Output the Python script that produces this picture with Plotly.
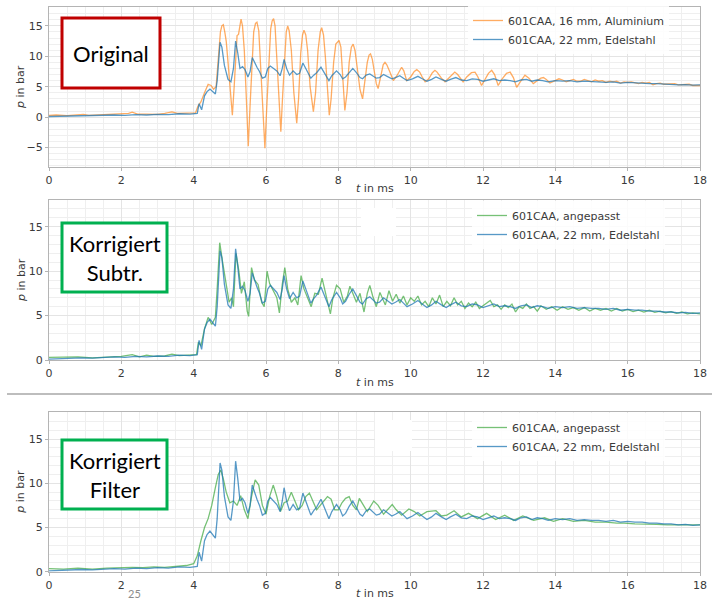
import plotly.graph_objects as go

# ---------------- data ----------------
t_alu = [0, 0.2, 0.5, 0.8, 0.95, 1.1, 1.4, 1.7, 2.0, 2.2, 2.3, 2.45, 2.7, 3.0, 3.2, 3.4, 3.55, 3.8, 4.05,
         4.12, 4.2, 4.3, 4.4, 4.48, 4.55, 4.62, 4.66, 4.70, 4.74, 4.78, 4.82, 4.86, 4.9, 4.95, 5.0, 5.07,
         5.12, 5.17, 5.2, 5.24, 5.28, 5.31, 5.35, 5.4, 5.45, 5.51, 5.56, 5.61, 5.66, 5.71, 5.75, 5.8, 5.84,
         5.9, 5.97, 6.02, 6.08, 6.13, 6.17, 6.21, 6.25, 6.3, 6.35, 6.41, 6.46, 6.52, 6.56, 6.6, 6.64, 6.7,
         6.77, 6.85, 6.9, 6.96, 7.01, 7.05, 7.1, 7.15, 7.22, 7.31, 7.37, 7.44, 7.5, 7.54, 7.59, 7.64, 7.7,
         7.75, 7.8, 7.87, 7.93, 7.98, 8.02, 8.07, 8.12, 8.18, 8.24, 8.3, 8.36, 8.41, 8.46, 8.53, 8.6, 8.67,
         8.73, 8.8, 8.85, 8.89, 8.94, 9.0, 9.05, 9.1, 9.17, 9.24, 9.29, 9.34, 9.42, 9.52, 9.62, 9.7, 9.75,
         9.81, 9.89, 10.0, 10.1, 10.17, 10.25, 10.32, 10.4, 10.5, 10.6, 10.67, 10.73, 10.85, 10.95, 11.05,
         11.15, 11.22, 11.3, 11.38, 11.45, 11.55, 11.68, 11.78, 11.86, 11.96, 12.05, 12.15, 12.24, 12.32,
         12.42, 12.52, 12.65, 12.75, 12.84, 12.93, 13.03, 13.16, 13.27, 13.39, 13.5, 13.6, 13.67, 13.75,
         13.85, 13.97, 14.1, 14.2, 14.3, 14.4, 14.5, 14.6, 14.7, 14.8, 14.9, 15.0, 15.1, 15.2, 15.3, 15.4,
         15.5, 15.6, 15.7, 15.8, 15.9, 16.0, 16.1, 16.2, 16.3, 16.4, 16.5, 16.6, 16.7, 16.8, 16.9, 17.0,
         17.1, 17.2, 17.3, 17.4, 17.5, 17.6, 17.7, 17.8, 17.9, 18.0]
p_alu = [0.3, 0.35, 0.25, 0.35, 0.45, 0.3, 0.35, 0.4, 0.45, 0.6, 0.8, 0.5, 0.5, 0.45, 0.6, 0.85, 0.6, 0.65, 0.7,
         1.8, 2.5, 4.0, 5.4, 5.2, 4.6, 5.0, 8.0, 12.5, 14.0, 15.0, 15.2, 14.0, 12.5, 9.0, 5.0, 0.3,
         5.0, 11.5, 13.4, 13.6, 15.5, 16.1, 15.0, 11.0, 4.0, -4.8, 2.0, 9.0, 14.0, 15.4, 15.6, 14.2, 10.0,
         3.0, -5.1, 1.5, 9.5, 14.5, 15.8, 16.2, 15.0, 10.0, 4.0, -2.4, 3.5, 11.0, 14.0, 15.0, 14.2, 11.0,
         4.0, -1.0, 3.0, 10.5, 13.5, 14.3, 13.5, 11.0, 5.0, 0.9, 4.0, 11.0, 14.0, 14.7, 13.5, 10.0, 4.0,
         0.3, 3.0, 9.0, 12.0, 12.4, 12.6, 11.5, 7.0, 1.1, 4.0, 9.0, 11.5, 12.0, 11.0, 7.5, 4.5, 3.0,
         5.5, 9.0, 10.2, 10.4, 9.5, 7.5, 5.5, 4.7, 6.5, 8.6, 9.0, 8.6, 7.5, 6.0, 6.8, 7.8, 8.2,
         7.6, 6.0, 6.6, 7.5, 7.8, 7.4, 6.6, 5.8, 6.3, 7.3, 7.7, 7.4, 6.4, 5.8, 6.4,
         7.1, 7.4, 7.0, 6.4, 5.8, 6.6, 7.3, 7.4, 6.6, 5.2, 6.2, 7.2, 7.7, 7.0,
         5.2, 6.2, 7.2, 7.4, 6.5, 4.9, 5.8, 6.9, 6.4, 5.5, 6.0, 6.4, 6.5, 6.2,
         5.6, 5.9, 6.3, 6.1, 5.8, 6.0, 6.2, 5.9, 5.9, 6.2, 6.0, 5.8, 6.1, 5.9, 6.0, 5.7,
         5.9, 5.8, 5.9, 5.6, 5.8, 5.7, 5.8, 5.6, 5.5, 5.7, 5.6, 5.7, 5.3, 5.5, 5.6, 5.4,
         5.4, 5.5, 5.5, 5.3, 5.3, 5.4, 5.4, 5.2, 5.2, 5.2]

t_ede = [0, 0.3, 0.6, 0.9, 1.2, 1.5, 1.8, 2.1, 2.4, 2.7, 3.0, 3.3, 3.6, 3.9, 4.1, 4.15, 4.22, 4.3, 4.37, 4.45,
         4.52, 4.6, 4.65, 4.7, 4.73, 4.78, 4.85, 4.95, 5.03, 5.1, 5.16, 5.22, 5.28, 5.35, 5.42, 5.5, 5.56,
         5.62, 5.68, 5.75, 5.82, 5.9, 5.98, 6.05, 6.12, 6.2, 6.3, 6.39, 6.45, 6.5, 6.57, 6.65, 6.75, 6.85,
         6.93, 7.02, 7.1, 7.17, 7.24, 7.32, 7.4, 7.52, 7.6, 7.67, 7.74, 7.82, 7.95, 8.05, 8.12, 8.2, 8.3,
         8.4, 8.5, 8.6, 8.67, 8.77, 8.87, 8.95, 9.05, 9.14, 9.25, 9.35, 9.48, 9.58, 9.7, 9.8, 9.9, 10.05,
         10.2, 10.32, 10.45, 10.58, 10.7, 10.85, 10.98, 11.1, 11.25, 11.4, 11.55, 11.7, 11.85, 12.0, 12.15,
         12.3, 12.45, 12.6, 12.75, 12.9, 13.05, 13.2, 13.35, 13.5, 13.65, 13.8, 14.0, 14.2, 14.4, 14.6,
         14.8, 15.0, 15.2, 15.4, 15.6, 15.8, 16.0, 16.2, 16.4, 16.6, 16.8, 17.0, 17.2, 17.4, 17.6, 17.8, 18.0]
p_ede = [0.1, 0.15, 0.2, 0.25, 0.2, 0.3, 0.35, 0.3, 0.4, 0.35, 0.45, 0.4, 0.55, 0.5, 0.6, 2.2, 1.2, 3.5, 4.2, 4.6,
         4.2, 3.8, 6.0, 11.0, 12.3, 11.5, 8.5, 6.2, 5.8, 8.0, 12.5, 10.5, 8.0, 8.3, 7.8, 6.6, 7.5,
         9.8, 9.0, 8.2, 7.5, 6.4, 6.6, 8.0, 8.4, 8.0, 7.6, 6.8, 8.0, 9.5, 8.0, 6.9, 7.6, 7.0,
         7.2, 8.9, 8.0, 7.0, 6.4, 6.9, 7.3, 8.2, 7.4, 6.8, 6.0, 6.8, 7.6, 7.0, 6.3, 6.6, 7.4,
         8.0, 7.3, 6.5, 6.3, 6.9, 7.1, 6.8, 6.4, 6.5, 7.0, 6.7, 6.3, 6.5, 6.8, 6.4, 6.0, 6.3,
         6.7, 6.3, 5.9, 6.2, 6.6, 6.2, 5.9, 6.2, 6.5, 6.1, 6.0, 6.3, 6.2, 5.9, 6.1,
         6.3, 6.0, 6.1, 6.0, 5.8, 6.1, 6.2, 5.9, 6.1, 6.0, 5.8, 6.0, 5.9, 6.0, 5.8,
         5.9, 5.8, 5.8, 5.7, 5.8, 5.6, 5.7, 5.6, 5.6, 5.5, 5.5, 5.4, 5.4, 5.3, 5.35, 5.25, 5.3]

t_sub = [0, 0.4, 0.8, 1.2, 1.6, 2.0, 2.3, 2.5, 2.7, 2.9, 3.2, 3.4, 3.6, 3.9, 4.08, 4.13, 4.2, 4.3, 4.4, 4.5,
         4.6, 4.65, 4.72, 4.8, 4.91, 4.98, 5.05, 5.1, 5.17, 5.25, 5.32, 5.4, 5.48, 5.52, 5.6, 5.68, 5.78,
         5.88, 5.95, 6.03, 6.1, 6.2, 6.3, 6.37, 6.45, 6.52, 6.6, 6.7, 6.8, 6.88, 6.97, 7.05, 7.15, 7.25,
         7.35, 7.45, 7.55, 7.62, 7.72, 7.78, 7.85, 7.95, 8.05, 8.15, 8.25, 8.32, 8.4, 8.5, 8.6, 8.71, 8.8,
         8.87, 8.95, 9.05, 9.15, 9.22, 9.3, 9.4, 9.5, 9.6, 9.7, 9.8, 9.9, 10.0, 10.1, 10.2, 10.3, 10.4,
         10.5, 10.6, 10.7, 10.8, 10.9, 11.0, 11.1, 11.2, 11.3, 11.4, 11.5, 11.6, 11.7, 11.8, 11.9, 12.0,
         12.1, 12.2, 12.3, 12.4, 12.5, 12.6, 12.7, 12.8, 12.9, 13.0, 13.1, 13.2, 13.3, 13.4, 13.5, 13.6,
         13.75, 13.9, 14.05, 14.2, 14.35, 14.5, 14.65, 14.8, 14.95, 15.1, 15.25, 15.4, 15.55, 15.7, 15.85,
         16.0, 16.15, 16.3, 16.45, 16.6, 16.75, 16.9, 17.05, 17.2, 17.35, 17.5, 17.65, 17.8, 18.0]
p_sub = [0.3, 0.3, 0.35, 0.25, 0.3, 0.4, 0.6, 0.35, 0.55, 0.4, 0.45, 0.65, 0.5, 0.6, 0.6, 2.0, 1.6, 3.5, 4.8, 4.0,
         4.8, 8.0, 13.2, 11.0, 8.2, 6.5, 7.0, 6.0, 12.0, 10.0, 7.5, 8.8, 5.5, 4.9, 10.4, 9.0, 8.5,
         6.5, 6.0, 10.0, 8.6, 7.8, 7.0, 5.3, 8.5, 10.4, 8.0, 6.5, 7.0, 6.2, 9.5, 8.0, 7.0, 6.0,
         7.5, 7.4, 9.2, 8.0, 6.5, 5.2, 7.0, 8.4, 8.0, 6.5, 7.2, 8.3, 7.5, 6.5, 7.5, 5.4, 7.5,
         8.4, 7.2, 6.0, 7.6, 7.0, 6.2, 7.8, 6.6, 7.4, 6.4, 7.2, 6.2, 7.0, 6.6, 7.2, 6.2, 6.6,
         6.0, 7.0, 6.3, 7.3, 6.0, 6.6, 6.1, 7.0, 6.2, 6.6, 5.8, 6.4, 6.0, 6.5, 5.8, 6.1,
         6.4, 6.7, 6.0, 6.2, 5.7, 6.2, 5.9, 6.3, 5.4, 6.0, 5.8, 6.3, 5.8, 6.0, 5.5, 6.1,
         5.7, 6.0, 5.6, 6.0, 5.7, 5.9, 5.6, 5.9, 5.5, 5.8, 5.6, 5.8, 5.5, 5.8, 5.5,
         5.7, 5.45, 5.6, 5.4, 5.6, 5.35, 5.5, 5.3, 5.45, 5.25, 5.4, 5.2, 5.3, 5.2]

t_fil = [0, 0.4, 0.8, 1.2, 1.6, 2.0, 2.3, 2.6, 2.9, 3.2, 3.5, 3.8, 4.0, 4.1, 4.2, 4.3, 4.4, 4.5, 4.6, 4.68,
         4.75, 4.82, 4.9, 5.0, 5.1, 5.2, 5.3, 5.4, 5.5, 5.6, 5.7, 5.8, 5.9, 6.0, 6.1, 6.2, 6.3, 6.4,
         6.5, 6.6, 6.7, 6.8, 6.9, 7.0, 7.1, 7.2, 7.3, 7.4, 7.5, 7.6, 7.7, 7.8, 7.9, 8.0, 8.1, 8.2, 8.3,
         8.4, 8.5, 8.58, 8.7, 8.8, 8.98, 9.1, 9.25, 9.49, 9.6, 9.75, 9.95, 10.1, 10.25, 10.45, 10.7, 10.85,
         11.0, 11.2, 11.4, 11.6, 11.85, 12.1, 12.35, 12.6, 12.85, 13.1, 13.4, 13.7, 13.95, 14.2, 14.5, 14.8,
         15.1, 15.4, 15.7, 15.9, 16.2, 16.5, 16.8, 17.1, 17.4, 17.7, 18.0]
p_fil = [0.35, 0.3, 0.4, 0.3, 0.4, 0.45, 0.5, 0.45, 0.55, 0.5, 0.6, 0.7, 0.9, 1.8, 3.5, 5.0, 6.0, 7.5, 9.5, 11.0,
         11.5, 10.5, 9.0, 7.8, 8.0, 7.5, 8.6, 7.0, 6.0, 8.5, 10.4, 9.8, 7.5, 6.5, 8.5, 9.8, 8.5, 6.8,
         7.8, 8.0, 9.0, 8.0, 7.0, 7.5, 8.5, 8.9, 8.0, 7.0, 7.5, 8.0, 8.5, 8.2, 7.0, 7.0, 7.8, 8.3, 8.5,
         7.5, 7.0, 8.3, 7.5, 6.8, 8.0, 7.5, 6.5, 7.6, 7.0, 6.4, 7.1, 6.8, 6.3, 6.8, 6.9, 6.3,
         6.4, 6.9, 6.2, 6.6, 6.0, 6.6, 5.9, 6.4, 5.8, 6.3, 5.8, 6.1, 5.7, 6.0, 5.7, 5.8,
         5.6, 5.6, 5.5, 5.5, 5.4, 5.4, 5.35, 5.3, 5.3, 5.25, 5.3]

x_ticks = [0, 2, 4, 6, 8, 10, 12, 14, 16, 18]
name_alu = "601CAA, 16 mm, Aluminium"
name_ede = "601CAA, 22 mm, Edelstahl"
name_adj = "601CAA, angepasst"
panel_labels = ["Original", "Korrigiert<br>Subtr.", "Korrigiert<br>Filter"]

# ---------------- styling ----------------
W, H = 712, 601
ORANGE = "rgba(255,127,14,0.65)"
BLUE = "rgba(31,119,180,0.75)"
GREEN = "rgba(44,160,44,0.65)"
FONT = "DejaVu Sans"
TXT = "#3a3a3a"


def px(x):
    return x / W


def py(y):
    return 1 - y / H


fig = go.Figure()
LW = 1.3
fig.add_trace(go.Scatter(x=t_alu, y=p_alu, mode="lines", name=name_alu, line=dict(color=ORANGE, width=LW),
                         xaxis="x", yaxis="y", legend="legend"))
fig.add_trace(go.Scatter(x=t_ede, y=p_ede, mode="lines", name=name_ede, line=dict(color=BLUE, width=LW),
                         xaxis="x", yaxis="y", legend="legend"))
fig.add_trace(go.Scatter(x=t_sub, y=p_sub, mode="lines", name=name_adj, line=dict(color=GREEN, width=LW),
                         xaxis="x2", yaxis="y2", legend="legend2"))
fig.add_trace(go.Scatter(x=t_ede, y=p_ede, mode="lines", name=name_ede, line=dict(color=BLUE, width=LW),
                         xaxis="x2", yaxis="y2", legend="legend2"))
fig.add_trace(go.Scatter(x=t_fil, y=p_fil, mode="lines", name=name_adj, line=dict(color=GREEN, width=LW),
                         xaxis="x3", yaxis="y3", legend="legend3"))
fig.add_trace(go.Scatter(x=t_ede, y=p_ede, mode="lines", name=name_ede, line=dict(color=BLUE, width=LW),
                         xaxis="x3", yaxis="y3", legend="legend3"))

panels = [  # (top px, bottom px, yrange, yticks)
    (7, 167, [-8.2, 18.1], [-5, 0, 5, 10, 15]),
    (200, 360, [0, 18.0], [0, 5, 10, 15]),
    (411.7, 571.7, [0, 18.1], [0, 5, 10, 15]),
]
xl, xr = 49, 700


def xaxis_cfg(anchor):
    return dict(domain=[px(xl), px(xr)], range=[0, 18], anchor=anchor, tickvals=x_ticks, automargin=False,
                showline=True, mirror=True, linecolor="#b4b4b4", linewidth=1,
                ticks="outside", ticklen=3, tickcolor="#b4b4b4",
                showgrid=True, gridcolor="#e4e4e4", gridwidth=1, zeroline=False,
                minor=dict(dtick=0.5, showgrid=True, gridcolor="#efefef"),
                tickfont=dict(family=FONT, size=11, color=TXT))


def yaxis_cfg(anchor, top, bot, rng, ticks):
    return dict(domain=[py(bot), py(top)], range=rng, anchor=anchor, tickvals=ticks, automargin=False,
                showline=True, mirror=True, linecolor="#b4b4b4", linewidth=1,
                ticks="outside", ticklen=3, tickcolor="#b4b4b4",
                showgrid=True, gridcolor="#e4e4e4", gridwidth=1, zeroline=False,
                minor=dict(dtick=1, showgrid=True, gridcolor="#efefef"),
                tickfont=dict(family=FONT, size=11, color=TXT))


layout = dict(width=W, height=H, margin=dict(l=0, r=0, t=0, b=0, autoexpand=False),
              paper_bgcolor="white", plot_bgcolor="white", showlegend=True)
for i, (top, bot, rng, ticks) in enumerate(panels):
    s = "" if i == 0 else str(i + 1)
    layout["xaxis" + s] = xaxis_cfg("y" + s)
    layout["yaxis" + s] = yaxis_cfg("x" + s, top, bot, rng, ticks)

leg_pos = [(468, 6), (472, 201), (472, 413)]
for i, (lx, lt) in enumerate(leg_pos):
    key = "legend" if i == 0 else "legend" + str(i + 1)
    layout[key] = dict(x=px(lx), y=py(lt), xanchor="left", yanchor="top",
                       bgcolor="rgba(255,255,255,0.85)", borderwidth=0,
                       font=dict(family=FONT, size=11, color=TXT), tracegroupgap=0,
                       itemwidth=30)
fig.update_layout(**layout)

annotations = []
shapes = []
# axis titles
for top, bot, _, _ in panels:
    annotations.append(dict(text="<i>p</i> in bar", x=px(21), y=py((top + bot) / 2), xref="paper", yref="paper",
                            xanchor="center", yanchor="middle",
                            textangle=-90, showarrow=False, font=dict(family=FONT, size=11, color=TXT)))
    annotations.append(dict(text="<i>t</i> in ms", x=px((xl + xr) / 2), y=py(bot + 22), xref="paper", yref="paper",
                            xanchor="center", yanchor="middle",
                            showarrow=False, font=dict(family=FONT, size=11, color=TXT)))

# label boxes
boxes = [((62, 18, 160, 88), "#c00000"), ((62, 223, 167, 292), "#00b050"), ((62, 440, 167, 509), "#00b050")]
for (x0, y0, x1, y1), col in boxes:
    shapes.append(dict(type="rect", xref="paper", yref="paper", x0=px(x0), x1=px(x1), y0=py(y0), y1=py(y1),
                       line=dict(color=col, width=3), fillcolor="white", layer="above"))
for ((x0, y0, x1, y1), _), lab in zip(boxes, panel_labels):
    annotations.append(dict(text=lab, x=px((x0 + x1) / 2), y=py((y0 + y1) / 2), xref="paper", yref="paper",
                            xanchor="center", yanchor="middle",
                            showarrow=False, font=dict(family="Lato", size=22, color="black"),
                            align="center"))

# white cover patches
shapes.append(dict(type="rect", xref="paper", yref="paper", x0=px(361), x1=px(396), y0=py(208), y1=py(236),
                   line=dict(width=0), fillcolor="white", layer="above"))
shapes.append(dict(type="rect", xref="paper", yref="paper", x0=px(375), x1=px(412), y0=py(420), y1=py(451),
                   line=dict(width=0), fillcolor="white", layer="above"))
# separator line
shapes.append(dict(type="line", xref="paper", yref="paper", x0=px(7), x1=1, y0=py(394), y1=py(394),
                   line=dict(color="#bdbdbd", width=2)))
# page number
annotations.append(dict(text="25", x=px(134), y=py(593), xref="paper", yref="paper", showarrow=False,
                        xanchor="center", yanchor="middle",
                        font=dict(family="Lato", size=11, color="#8c8c8c")))

fig.update_layout(annotations=annotations, shapes=shapes)
fig.write_html("out.html")
